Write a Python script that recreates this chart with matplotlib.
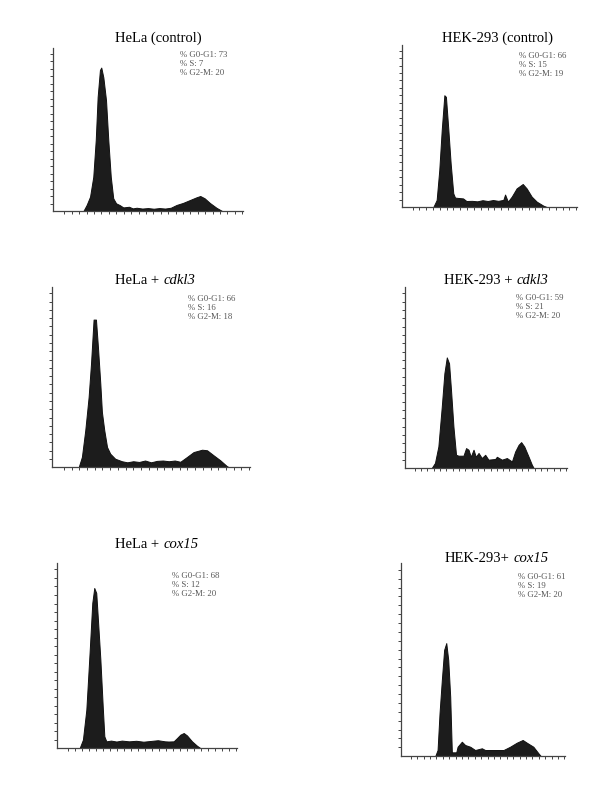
import numpy as np
import matplotlib
matplotlib.use("Agg")
import matplotlib.pyplot as plt
from matplotlib.offsetbox import TextArea, HPacker, AnnotationBbox

plt.rcParams['font.family'] = ['Liberation Serif', 'DejaVu Serif']

# ---- data (x: % of DNA-content axis, y: % of count axis) ----
title_main = ["HeLa (control)", "HEK-293 (control)", "HeLa +", "HEK-293 +", "HeLa +", "HEK-293+"]
title_ital = ["", "", "cdkl3", "cdkl3", "cox15", "cox15"]

g1_pct = [73, 66, 66, 59, 68, 61]
s_pct = [7, 15, 16, 21, 12, 19]
g2m_pct = [20, 19, 18, 20, 20, 20]

hela_ctrl_x = [16, 17.7, 19.5, 21.2, 22.5, 23.5, 24.7, 25.4, 26.5, 27.9, 29.1, 30.4, 31.7, 33.2, 35,
               37, 40, 42, 44, 47, 50, 53, 56, 59, 62, 65, 68.5, 72, 75.5, 77.5, 79.8, 82.5, 86, 89]
hela_ctrl_y = [0, 3.7, 8.8, 21, 43.6, 70, 86.5, 88, 82, 68, 43.6, 21, 7.8, 4.7, 3.7,
               2.2, 2.6, 1.6, 2.0, 1.5, 1.8, 1.4, 1.8, 1.5, 2.0, 3.7, 5.0, 6.7, 8.4, 9.2, 7.8, 5.0, 2.0, 0]

hek_ctrl_x = [17.9, 19.8, 21.3, 22.7, 24.2, 25.1, 26.5, 27.8, 29.3, 30.3, 32, 34.9, 36.8,
              40, 43, 46, 49, 52, 55, 57.9, 58.9, 60.5, 62.7, 65.5, 69, 71.2, 74.1, 77, 80.8, 82.7]
hek_ctrl_y = [0, 4.3, 22.8, 47.5, 69, 68, 47.5, 27, 8.4, 5.8, 5.6, 5.3, 3.7,
              3.8, 3.5, 4.2, 3.7, 4.3, 3.8, 4.4, 7.7, 3.3, 6.4, 11.5, 14.2, 11.5, 6.4, 3.3, 0.8, 0]

hela_cdkl3_x = [13.5, 15.1, 16.8, 18.5, 19.7, 21.0, 22.2, 23.2, 24.4, 25.2, 26.4, 27.8, 29.4, 31.9, 35.3,
                38, 41, 44, 47, 50, 53, 56, 59, 62, 64.8, 68.2, 71.5, 75.8, 78.3, 81.6, 85, 88.4, 89.2]
hela_cdkl3_y = [0, 5.6, 20.4, 38.9, 57.4, 81.9, 81.9, 66.7, 46.3, 30.6, 20.4, 11.1, 7.4, 4.6, 3.2,
                2.6, 3.2, 2.8, 3.6, 2.6, 3.4, 3.6, 3.2, 3.6, 2.9, 5.6, 8.3, 9.6, 9.3, 6.5, 3.7, 0.4, 0]

hek_cdkl3_x = [16.5, 18.5, 20.6, 22.7, 24.3, 25.8, 27.2, 28.4, 29.9, 31.5, 33, 36.1, 37.7, 39.2,
               40.6, 42.3, 43.7, 45.4, 47.4, 49.5, 51.5, 55.7, 56.7, 59.8, 62.9, 66,
               68, 70.1, 71.7, 73.6, 76.3, 78.3, 79.4]
hek_cdkl3_y = [0, 2.8, 11.9, 33.9, 52.3, 61.1, 57.8, 43.1, 22.9, 7.3, 6.8, 6.8, 11, 10.1,
               6.2, 10.1, 6.2, 8.3, 5.5, 7.3, 4.6, 5.0, 6.2, 4.6, 5.5, 3.6,
               9.1, 12.8, 14.3, 11.9, 6.2, 1.8, 0]

hela_cox15_x = [12.6, 14.4, 16.3, 18.1, 19.6, 20.7, 21.8, 22.8, 24.1, 25.4, 26.3, 27.4,
                30, 33, 36, 40, 44, 48, 52, 56, 60, 62, 64.8,
                66.7, 68.5, 70.4, 72.2, 75, 77.8, 79.6]
hela_cox15_y = [0, 4.5, 20.7, 51.4, 78.4, 86.5, 83.8, 68.4, 47.7, 22.5, 6.3, 3.6,
                4.0, 3.5, 4.0, 3.6, 3.9, 3.4, 3.8, 4.2, 3.6, 3.5, 3.6,
                5.4, 7.2, 8.1, 6.8, 3.6, 1.2, 0]

hek_cox15_x = [20.9, 22.3, 23.5, 24.9, 26.3, 27.6, 28.8, 30, 31, 33.7, 34.5, 37.1, 39.1, 42.2,
               45.2, 49.3, 51.3, 56, 62.5, 66.5, 70.6, 74.2, 76.7, 80.7, 83.8, 85.2]
hek_cox15_y = [0, 3.1, 22.2, 39.4, 55, 58.5, 49.8, 30.8, 1.9, 1.9, 4.8, 7.4, 5.7, 4.8,
               3.1, 4.0, 3.1, 3.1, 3.1, 4.8, 6.9, 8.3, 6.9, 4.8, 1.4, 0]

series_x = [hela_ctrl_x, hek_ctrl_x, hela_cdkl3_x, hek_cdkl3_x, hela_cox15_x, hek_cox15_x]
series_y = [hela_ctrl_y, hek_ctrl_y, hela_cdkl3_y, hek_cdkl3_y, hela_cox15_y, hek_cox15_y]

# ---- layout (pixels) ----
W, H = 600, 785
boxes = [(53, 243, 48, 211), (402, 577, 45, 207),
         (52, 250, 287, 467), (405, 567, 287, 468),
         (57, 237, 563, 748), (401, 565, 563, 756)]
title_pos = [(158, 38), (497, 38), (155, 281), (496, 280), (157, 545), (497, 558)]
stat_pos = [(180, 55), (519, 56), (188, 299), (516, 298), (172, 576), (518, 577)]

fig = plt.figure(figsize=(W / 100, H / 100), dpi=100)

for i in range(6):
    l, r, t, b = boxes[i]
    ax = fig.add_axes([l / W, 1 - b / H, (r - l) / W, (b - t) / H])
    ax.fill_between(series_x[i], series_y[i], 0, color='#1c1c1c', edgecolor='#111111', linewidth=0.7)
    ax.set_xlim(0, 100)
    ax.set_ylim(0, 100)
    for s in ['top', 'right']:
        ax.spines[s].set_visible(False)
    for s in ['left', 'bottom']:
        ax.spines[s].set_color('#444444')
        ax.spines[s].set_linewidth(0.9)
    ax.set_xticks(np.arange(6, 101, 3.9))
    ax.set_yticks(np.arange(4.5, 101, 4.6))
    ax.tick_params(direction='out', length=2.5, width=0.7, color='#444444',
                   labelbottom=False, labelleft=False)

    tx, ty = title_pos[i]
    children = [TextArea(title_main[i], textprops=dict(fontsize=10.5, color='black'))]
    if title_ital[i]:
        children.append(TextArea(title_ital[i], textprops=dict(fontsize=10.5, color='black',
                                                                 style='italic')))
    box = HPacker(children=children, align='baseline', pad=0, sep=3)
    ab = AnnotationBbox(box, (tx, H - ty), xycoords='figure pixels', frameon=False,
                        box_alignment=(0.5, 0.5), pad=0)
    fig.add_artist(ab)

    sx, sy = stat_pos[i]
    lines = ["%% G0-G1: %d" % g1_pct[i], "%% S: %d" % s_pct[i], "%% G2-M: %d" % g2m_pct[i]]
    for k, line in enumerate(lines):
        fig.text(sx / W, 1 - (sy + 9 * k) / H, line, ha='left', va='center',
                 fontsize=6.3, color='#555555')

fig.savefig("out.png", dpi=100)
